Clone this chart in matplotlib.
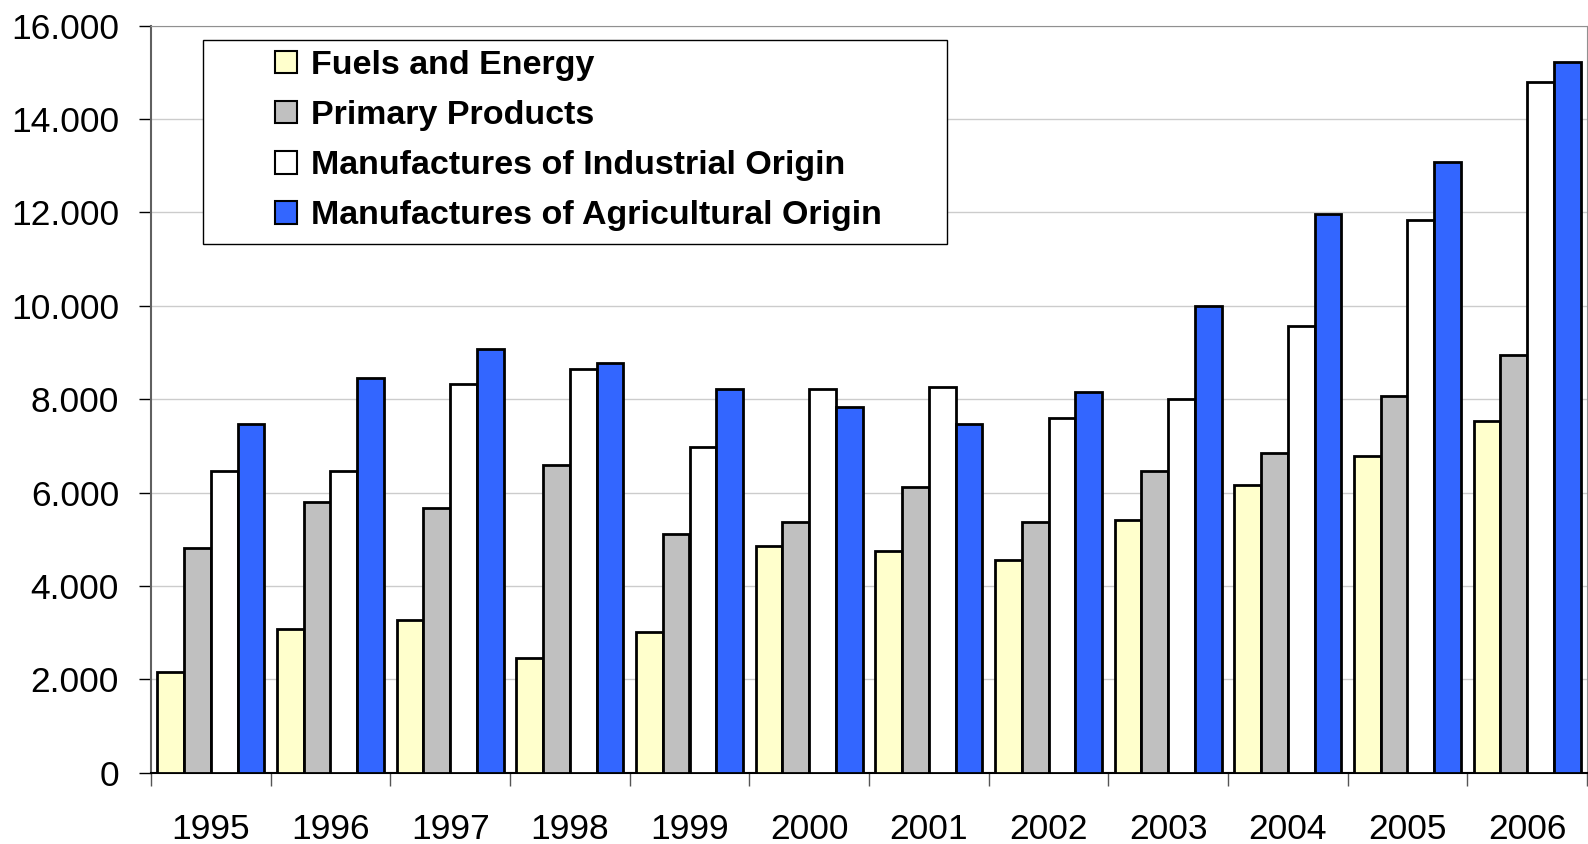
import numpy as np
import matplotlib
matplotlib.use("Agg")
import matplotlib.pyplot as plt
from matplotlib.patches import Patch, Rectangle
from matplotlib.ticker import FuncFormatter, FixedLocator

years = ["1995", "1996", "1997", "1998", "1999", "2000",
         "2001", "2002", "2003", "2004", "2005", "2006"]
series_names = ["Fuels and Energy", "Primary Products",
                "Manufactures of Industrial Origin",
                "Manufactures of Agricultural Origin"]
fuels = [2150, 3080, 3260, 2460, 3010, 4860, 4740, 4560, 5420, 6160, 6780, 7530]
primary = [4810, 5800, 5670, 6600, 5110, 5370, 6110, 5370, 6470, 6840, 8070, 8940]
industrial = [6470, 6470, 8320, 8640, 6980, 8210, 8270, 7600, 8010, 9560, 11840, 14800]
agricultural = [7470, 8450, 9070, 8770, 8210, 7840, 7470, 8150, 9990, 11960, 13080, 15220]
colors = ["#FFFFCC", "#C0C0C0", "#FFFFFF", "#3366FF"]

plt.rcParams['font.family'] = ['Liberation Sans', 'DejaVu Sans']

W, H = 1588, 844
fig = plt.figure(figsize=(W / 100, H / 100), dpi=100)
left, right, top, bottom = 151, 1587, 25.7, 772.7
ax = fig.add_axes([left / W, 1 - bottom / H, (right - left) / W, (bottom - top) / H])

x = np.arange(len(years))
bw = 0.223
all_series = [fuels, primary, industrial, agricultural]
for k, vals in enumerate(all_series):
    ax.bar(x + (k - 1.5) * bw, vals, width=bw, color=colors[k],
           edgecolor="black", linewidth=2, zorder=3)

ax.set_xlim(-0.5, len(years) - 0.5)
ax.set_ylim(0, 16000)
ax.set_yticks(np.arange(0, 16001, 2000))
ax.yaxis.set_major_formatter(FuncFormatter(lambda v, p: f"{int(v):,}".replace(",", ".")))
ax.grid(axis="y", color="#cccccc", linewidth=1, zorder=0)
ax.set_axisbelow(True)

ax.xaxis.set_major_locator(FixedLocator(np.arange(len(years) + 1) - 0.5))
ax.xaxis.set_minor_locator(FixedLocator(x))
ax.set_xticklabels([])
ax.set_xticklabels(years, minor=True)
ax.tick_params(axis="x", which="major", length=9, width=1, color="#555555")
ax.tick_params(axis="x", which="minor", length=0, pad=29, labelsize=25.5)
ax.tick_params(axis="y", length=9, width=1, pad=14, labelsize=25.5)

ax.spines["bottom"].set_color("black")
ax.spines["bottom"].set_linewidth(1.5)
ax.spines["left"].set_color("#606060")
ax.spines["left"].set_linewidth(1.5)
ax.spines["top"].set_color("#909090")
ax.spines["right"].set_color("#909090")

# legend box drawn separately, entries placed inside it
fig.patches.append(Rectangle((203 / W, 1 - 244 / H), (947 - 203) / W, (244 - 40.5) / H,
                             transform=fig.transFigure, facecolor="white",
                             edgecolor="black", linewidth=1, zorder=5))
handles = [Patch(facecolor=c, edgecolor="black", linewidth=1.5) for c in colors]
leg = fig.legend(handles, series_names, loc="upper left",
                 bbox_to_anchor=(275 / W, 1 - 50 / H), frameon=False,
                 borderpad=0, borderaxespad=0, handlelength=0.65, handleheight=0.65,
                 handletextpad=0.42, labelspacing=0.56,
                 prop={"weight": "bold", "size": 24.5})
leg.set_zorder(6)

fig.savefig("out.png", dpi=100)
